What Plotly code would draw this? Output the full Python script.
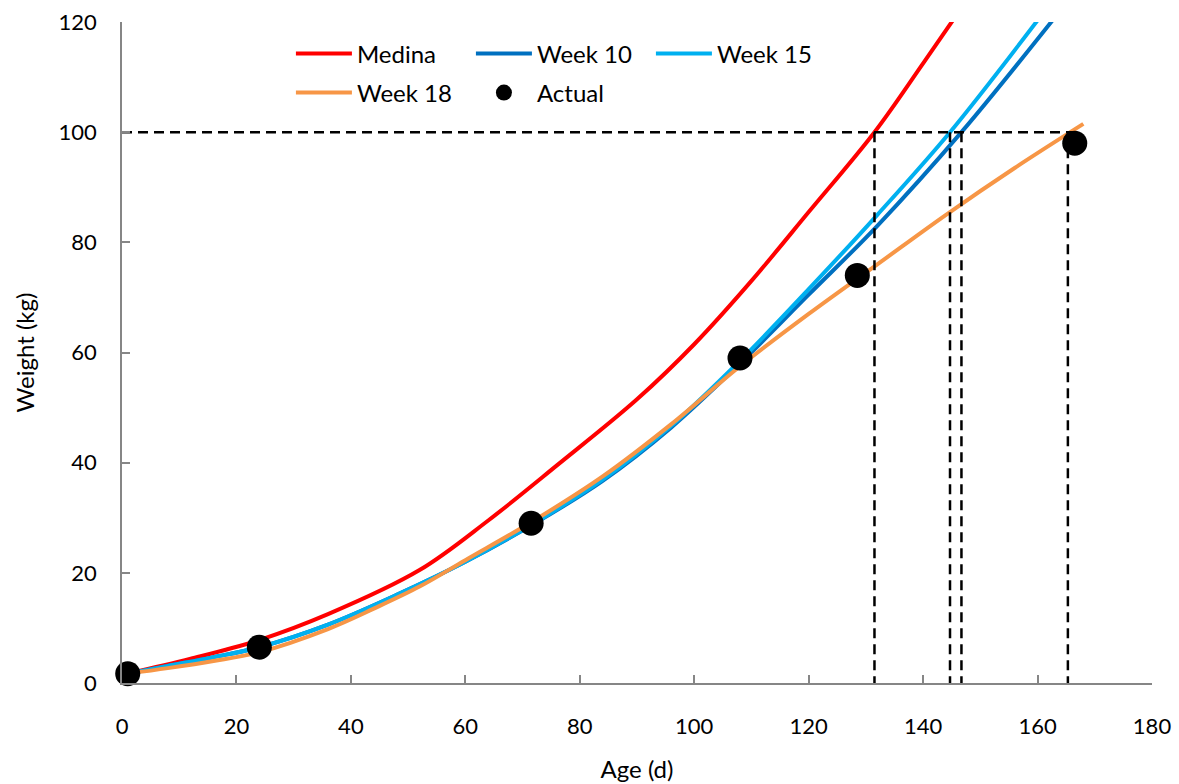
import plotly.graph_objects as go

# Growth curves: predicted body weight (kg) against age (d)
age_medina = [1, 12, 24, 36, 52, 64, 76, 90, 100, 110, 120, 131.5, 140, 146]
wt_medina = [1.7, 4.4, 7.8, 12.5, 20.5, 29.5, 39.5, 51.5, 61.5, 73.0, 85.5, 100, 112.5, 121.5]

age_week10 = [1, 8, 16, 24, 36, 48, 60, 72, 84, 96, 108, 120, 132, 146.7, 163]
wt_week10 = [1.7, 3.1, 4.7, 6.5, 10.6, 16.0, 22.0, 28.9, 36.7, 46.4, 58.0, 70.5, 83.0, 100, 120.8]

age_week15 = [1, 8, 16, 24, 36, 48, 60, 72, 84, 96, 108, 120, 132, 144.7, 160]
wt_week15 = [1.7, 3.1, 4.7, 6.5, 10.6, 16.0, 22.0, 29.0, 36.9, 46.7, 58.5, 71.5, 85.0, 100, 120.3]

age_week18 = [1, 8, 16, 24, 36, 44, 52, 60, 72, 84, 96, 108, 120, 132, 144, 156, 168]
wt_week18 = [1.7, 2.7, 4.0, 5.6, 9.8, 13.5, 17.5, 22.3, 29.5, 37.5, 47.0, 57.5, 67.0, 76.0, 85.0, 93.5, 101.5]

age_actual = [1, 24, 71.5, 108, 128.5, 166.5]
wt_actual = [1.7, 6.5, 29, 59, 74, 98]

# Target slaughter weight and the ages at which each curve reaches it
target_wt = 100
target_ages = [131.5, 144.7, 146.7, 165.3]

FONT = "Lato"

# (name, ages, weights, colour, legend row)
curves = [
    ("Medina", age_medina, wt_medina, "#FF0000", "legend"),
    ("Week 10", age_week10, wt_week10, "#0070C0", "legend"),
    ("Week 15", age_week15, wt_week15, "#00B0F0", "legend"),
    ("Week 18", age_week18, wt_week18, "#F79646", "legend2"),
]

fig = go.Figure()

for name, xs, ys, color, leg in curves:
    fig.add_trace(go.Scatter(
        x=xs, y=ys, name=name, mode="lines", legend=leg,
        line=dict(color=color, width=4, shape="spline", smoothing=1.0),
    ))

dash_style = dict(color="black", width=2.5, dash="10px,6px")

# Horizontal reference at the target weight
fig.add_trace(go.Scatter(
    x=[0, age_actual[-1]], y=[target_wt, target_wt], mode="lines",
    line=dash_style, showlegend=False, hoverinfo="skip",
))

# Drop lines from the target weight to the age axis
for a in target_ages:
    fig.add_trace(go.Scatter(
        x=[a, a], y=[target_wt, 0], mode="lines",
        line=dash_style, showlegend=False, hoverinfo="skip",
    ))

fig.add_trace(go.Scatter(
    x=age_actual, y=wt_actual, name="Actual", mode="markers", legend="legend2",
    marker=dict(color="black", size=25, line=dict(width=0)),
    cliponaxis=False,
))

axis_common = dict(
    showgrid=False, zeroline=False, automargin=False,
    showline=True, linecolor="#868686", linewidth=1.5,
    ticks="inside", ticklen=8, tickwidth=1.5, tickcolor="#868686",
    tickfont=dict(family=FONT, size=22, color="black"),
)

legend_common = dict(
    orientation="h",
    x=0.164, xanchor="left", yanchor="middle",
    entrywidth=109, entrywidthmode="pixels",
    itemwidth=56,
    font=dict(family=FONT, size=24, color="black"),
    bgcolor="rgba(0,0,0,0)",
    traceorder="normal",
)

fig.update_layout(
    width=1179, height=784,
    margin=dict(l=122, r=27, t=22, b=101),
    paper_bgcolor="white", plot_bgcolor="white",
    font=dict(family=FONT, color="black"),
    xaxis=dict(
        range=[0, 180], dtick=20, tick0=0,
        title=dict(text="Age (d)", font=dict(family=FONT, size=24), standoff=23),
        ticklabelstandoff=23,
        **axis_common,
    ),
    yaxis=dict(
        range=[0, 120], dtick=20, tick0=0,
        title=dict(text="Weight (kg)", font=dict(family=FONT, size=24), standoff=17),
        ticklabelstandoff=19,
        **axis_common,
    ),
    legend=dict(y=0.9516, **legend_common),
    legend2=dict(y=0.8926, **legend_common),
    showlegend=True,
)

fig.write_html("out.html")
